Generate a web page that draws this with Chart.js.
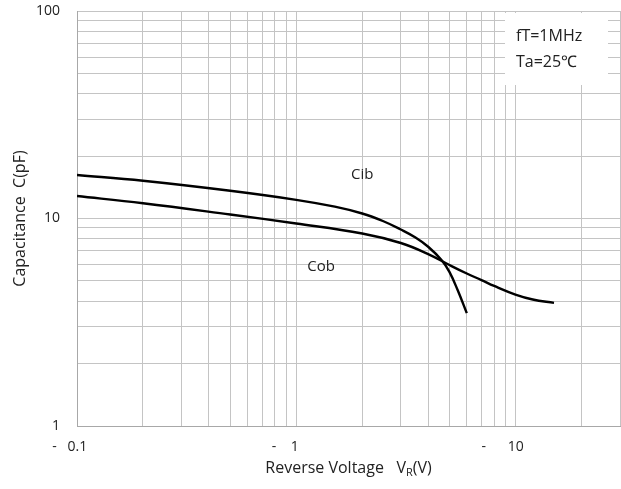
<!DOCTYPE html>
<html>
<head>
<meta charset="utf-8">
<script src="https://cdn.jsdelivr.net/npm/chart.js@4.4.0/dist/chart.umd.min.js"></script>
<style>
  html, body { margin: 0; padding: 0; background: #fff; }
</style>
</head>
<body>
<canvas id="capChart" width="621" height="489"></canvas>
<script>
// Cib / Cob vs reverse voltage
const cibVoltage = [0.1, 0.2, 0.5, 1, 1.5, 2, 2.5, 3, 3.5, 4, 4.6, 5, 5.45, 6];
const cibCap = [16.2, 15.2, 13.6, 12.3, 11.4, 10.57, 9.7, 8.85, 8.1, 7.31, 6.31, 5.53, 4.52, 3.5];

const cobVoltage = [0.1, 0.2, 0.5, 1, 2, 3, 4, 5, 6, 7, 8, 10, 12, 15];
const cobCap = [12.83, 11.85, 10.45, 9.46, 8.47, 7.62, 6.74, 5.97, 5.43, 5.05, 4.73, 4.3, 4.07, 3.92];

// grid positions and labels
const xGridValues = [0.1, 0.2, 0.3, 0.4, 0.5, 0.6, 0.7, 0.8, 0.9, 1, 2, 3, 4, 5, 6, 7, 8, 9, 10, 20, 30];
const yGridValues = [1, 2, 3, 4, 5, 6, 7, 8, 9, 10, 20, 30, 40, 50, 60, 70, 80, 90, 100];
const xTickLabels = { 0.1: "-   0.1    ", 1: "-    1      ", 10: "-      10       " };
const yTickLabels = { 1: "1", 10: "10", 100: "100" };

// curve names and conditions
const curveNames = ["Cib", "Cob"];
const curveNameVoltage = [2.0, 1.3];
const curveNameCap = [16.2, 5.85];
const conditionLines = ["fT=1MHz", "Ta=25\u2103"];

const FONT = "'Open Sans', sans-serif";
const GRID = "#c4c4c4";

function toPoints(xs, ys) {
    return xs.map((x, i) => ({ x: x, y: ys[i] }));
}

function noScalePadding(scale) {
    scale.paddingTop = 0;
    scale.paddingBottom = 0;
    scale.paddingLeft = 0;
    scale.paddingRight = 0;
}

// white note box, curve names, x axis title with subscript
const notesPlugin = {
    id: "notes",
    beforeDatasetsDraw(chart) {
        const ctx = chart.ctx;
        const area = chart.chartArea;
        ctx.save();
        ctx.fillStyle = "#fff";
        ctx.fillRect(area.right - 115, area.top + 2, 103, 72);
        ctx.restore();
    },
    afterDatasetsDraw(chart) {
        const ctx = chart.ctx;
        const area = chart.chartArea;
        const xs = chart.scales.x;
        const ys = chart.scales.y;
        ctx.save();
        ctx.fillStyle = "#222";
        ctx.textBaseline = "middle";

        // curve names
        ctx.font = "15px " + FONT;
        ctx.textAlign = "center";
        curveNames.forEach((name, i) => {
            ctx.fillText(name, xs.getPixelForValue(curveNameVoltage[i]), ys.getPixelForValue(curveNameCap[i]));
        });

        // measurement conditions
        ctx.font = "16px " + FONT;
        ctx.textAlign = "left";
        conditionLines.forEach((line, i) => {
            ctx.fillText(line, area.right - 104, area.top + 25 + i * 26);
        });

        // x axis title: Reverse Voltage  V_R(V)
        const y = 468;
        const main = "Reverse Voltage   V";
        const sub = "R";
        const tail = "(V)";
        ctx.font = "16px " + FONT;
        const wMain = ctx.measureText(main).width;
        const wTail = ctx.measureText(tail).width;
        ctx.font = "11px " + FONT;
        const wSub = ctx.measureText(sub).width;
        let x = (area.left + area.right) / 2 - (wMain + wSub + wTail) / 2;
        ctx.font = "16px " + FONT;
        ctx.fillText(main, x, y);
        x += wMain;
        ctx.font = "11px " + FONT;
        ctx.fillText(sub, x, y + 5);
        x += wSub;
        ctx.font = "16px " + FONT;
        ctx.fillText(tail, x, y);
        ctx.restore();
    }
};

new Chart(document.getElementById("capChart"), {
    type: "line",
    data: {
        datasets: [
            {
                label: "Cib",
                data: toPoints(cibVoltage, cibCap),
                borderColor: "#000",
                borderWidth: 2.4,
                pointRadius: 0,
                tension: 0.4,
                fill: false
            },
            {
                label: "Cob",
                data: toPoints(cobVoltage, cobCap),
                borderColor: "#000",
                borderWidth: 2.4,
                pointRadius: 0,
                tension: 0.4,
                fill: false
            }
        ]
    },
    options: {
        responsive: false,
        animation: false,
        layout: { padding: { top: 11, right: 1, left: 0, bottom: 0 } },
        plugins: {
            legend: { display: false },
            tooltip: { enabled: false }
        },
        scales: {
            x: {
                type: "logarithmic",
                min: 0.1,
                max: 30,
                afterBuildTicks: (scale) => {
                    scale.ticks = xGridValues.map((v) => ({ value: v }));
                },
                afterFit: (scale) => {
                    scale.height = 63;
                    noScalePadding(scale);
                },
                grid: { color: GRID, drawTicks: false },
                border: { color: "#a8a8a8" },
                ticks: {
                    autoSkip: false,
                    maxRotation: 0,
                    padding: 13,
                    color: "#222",
                    font: { family: FONT, size: 14 },
                    callback: (value) => xTickLabels[value] || ""
                }
            },
            y: {
                type: "logarithmic",
                min: 1,
                max: 100,
                afterBuildTicks: (scale) => {
                    scale.ticks = yGridValues.map((v) => ({ value: v }));
                },
                afterFit: (scale) => {
                    scale.width = 77;
                    noScalePadding(scale);
                },
                grid: { color: GRID, drawTicks: false },
                border: { color: "#a8a8a8" },
                ticks: {
                    autoSkip: false,
                    padding: 17,
                    color: "#222",
                    font: { family: FONT, size: 14 },
                    callback: (value) => yTickLabels[value] || ""
                },
                title: {
                    display: true,
                    text: "Capacitance  C(pF)",
                    color: "#222",
                    font: { family: FONT, size: 16 },
                    padding: { top: 11, bottom: 0 }
                }
            }
        }
    },
    plugins: [notesPlugin]
});
</script>
</body>
</html>
